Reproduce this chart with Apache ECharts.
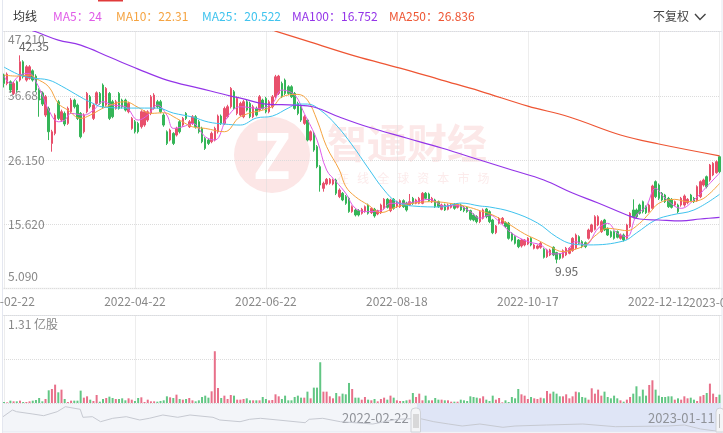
<!DOCTYPE html>
<html><head><meta charset="utf-8">
<style>html,body{margin:0;padding:0;background:#fff;overflow:hidden}#c{width:723px;height:433px}</style>
<script src="https://cdn.jsdelivr.net/npm/echarts@6/dist/echarts.min.js"></script>
</head><body><div id="c"></div>
<script>
const tickIndex=[0,41,82,123,164,205,224];
const tickLabels=['2022-02-22','2022-04-22','2022-06-22','2022-08-18','2022-10-17','2022-12-12','2023-01-11'];
const yMin=5.09,yMax=47.21,yStep=10.53,volMax=1.31;
const highMark=42.35,lowMark=9.95;
const legendNames=['MA5','MA10','MA25','MA100','MA250'];
const legendValues=['24','22.31','20.522','16.752','26.836'];
// [open, close, low, high]
const candles=[
[40.07,38.7,38.04,40.3],[38.7,40.23,38.4,40.5],[38.97,37.61,37.17,39.2],[37.06,38.7,36.8,39],[38.97,37.61,37.3,39.2],[39.25,42.25,39,43.3],[42.25,39.79,39.5,42.5],[39.25,41.43,39,41.7],[39.52,41.43,39.3,41.7],[40.77,39.25,39,41],
[39.9,37.61,37.3,40.2],[37.61,35.97,33.24,37.9],[37.06,35.31,35,37.3],[33.51,36.51,33.2,36.8],[34.6,30.78,29.42,34.9],[28.87,30.78,27.51,31.1],[30.51,33.51,30.2,33.8],[35.7,32.97,32.7,36],[32.69,34.06,32.4,34.4],[33.79,32.04,31.7,34.1],
[32.15,34.6,31.9,34.9],[34.06,35.97,33.8,36.3],[35.97,34.88,34.6,36.2],[35.15,32.97,32.7,35.4],[33.79,29.96,29.7,34],[30.78,33.51,30.5,33.8],[34.06,37.06,33.8,37.3],[36.51,34.88,34.6,36.8],[32.97,35.15,32.7,35.4],[35.42,37.17,35.2,37.4],
[37.06,35.42,35.2,37.3],[38.43,34.88,34.6,38.7],[35.15,37.88,34.9,38.1],[37.06,32.97,32.7,37.3],[35.7,33.24,33,36],[34.6,35.7,34.4,36],[37.06,34.6,34.4,37.3],[35.97,34.88,34.6,36.2],[35.97,34.33,34.1,36.2],[34.06,35.42,33.8,35.7],
[31.33,32.97,31.1,33.2],[32.42,30.78,30.5,32.7],[32.15,30.78,30.5,32.4],[31.6,34.06,31.3,34.3],[31.88,34.06,31.6,34.3],[32.69,34.06,32.4,34.3],[33.79,36.51,33.5,36.8],[34.6,36.79,34.4,37.1],[35.7,34.88,34.6,36],[35.7,34.06,33.8,36],
[33.51,31.88,31.6,33.8],[30.78,28.87,28.6,31],[29.42,31.06,29.2,31.3],[30.51,28.87,28.6,30.7],[30.24,31.33,30,31.6],[32.42,30.78,30.5,32.7],[31.88,32.97,31.6,33.2],[33.79,32.97,32.7,34],[31.6,32.42,31.4,32.7],[32.15,33.24,31.9,33.5],
[33.24,31.6,31.3,33.5],[32.42,30.78,30.5,32.7],[31.33,29.15,28.9,31.6],[29.69,28.05,27.8,29.9],[29.42,28.87,28.6,29.7],[29.15,30.51,28.9,30.8],[29.42,31.33,29.2,31.6],[30.78,33.35,30.5,33.6],[33.35,32.15,31.9,33.6],[32.15,34.6,31.9,34.9],
[33.24,34.88,33,35.2],[34.88,37.88,34.6,38.1],[37.34,34.6,34.4,37.6],[33.79,36.24,33.5,36.5],[33.51,35.42,33.3,35.7],[33.24,35.7,33,36],[35.7,34.33,34.1,36],[35.42,33.24,33,35.7],[33.24,34.88,33,35.2],[34.6,33.51,33.3,34.9],
[34.33,36.51,34.1,36.8],[35.97,34.6,34.4,36.2],[36.24,34.06,33.8,36.5],[34.06,35.7,33.8,36],[34.88,36.51,34.6,36.8],[36.51,39.79,36.3,40.1],[37.06,39.9,36.8,40.1],[38.7,36.51,36.3,39],[39.25,37.06,36.8,39.5],[38.15,37.06,36.8,38.4],
[38.15,36.51,36.3,38.4],[37.06,34.6,34.4,37.3],[35.42,33.79,33.5,35.7],[34.88,32.69,32.4,35.1],[32.15,33.24,31.9,33.5],[32.69,29.42,29.2,32.9],[29.42,30.78,29.2,31],[30.51,27.78,27.5,30.8],[28.33,25.05,24.8,28.6],[25.05,22.05,20.96,25.3],
[21.5,22.33,20.96,22.6],[22.22,22.98,22,23.2],[22.33,22.98,22.1,23.2],[22.22,22.87,22,23.1],[22.87,20.69,20.4,23.1],[20.14,21.23,19.9,21.5],[20.69,19.6,19.4,20.9],[20.14,19.05,18.8,20.4],[19.87,17.69,17.5,20.1],[17.69,18.5,17.5,18.7],
[17.96,17.14,16.9,18.2],[17.85,17.14,16.9,18.1],[17.41,18.07,17.2,18.3],[17.69,18.5,17.5,18.7],[18.78,17.41,17.2,19],[17.52,18.23,17.3,18.4],[18.07,16.98,16.7,18.3],[17.3,17.85,17.1,18],[17.52,18.78,17.3,19],[18.23,19.71,18,19.9],
[19.71,18.39,18.2,19.9],[17.85,19.6,17.6,19.8],[19.71,18.23,18,19.9],[18.5,19.32,18.3,19.5],[18.5,19.49,18.3,19.7],[19.49,18.5,18.3,19.7],[19.05,17.96,17.7,19.3],[18.78,19.32,18.6,20.58],[19.87,19.05,18.8,20.1],[19.05,19.6,18.9,19.8],
[19.05,19.87,18.9,20.1],[19.05,20.69,18.9,20.9],[20.69,19.87,19.7,20.9],[20.58,19.49,19.3,20.8],[19.32,19.87,19.1,20.1],[19.6,18.5,18.3,19.8],[19.32,18.5,18.3,19.5],[18.07,18.78,17.9,19],[18.78,17.96,17.8,19],[18.07,18.78,17.9,19],
[18.39,18.78,18.2,19],[18.89,18.23,18,19.1],[18.39,18.89,18.2,19.1],[18.78,17.96,17.8,19],[18.39,17.85,17.6,18.6],[18.39,17.69,17.5,18.6],[17.85,16.43,16.2,18],[17.14,16.32,16.1,17.4],[16.87,16.05,15.77,17.1],[16.05,17.68,15.8,17.9],
[16.59,17.96,16.4,18.2],[18.12,16.86,16.6,18.3],[17.68,16.05,15.8,17.9],[16.32,14.24,14,16.5],[14.24,15.34,14,15.5],[15.77,16.59,15.6,16.8],[15.77,16.59,15.6,16.8],[15.88,15.23,15,16.1],[15.77,13.31,13.1,16],[14.13,13.04,12.8,14.3],
[13.59,12.5,12.3,13.8],[13.04,11.95,11.7,13.2],[12.06,13.04,11.8,13.2],[12.22,13.04,12,13.2],[12.39,13.31,12.2,13.5],[13.31,12.22,12,13.5],[11.68,12.22,11.5,12.4],[11.68,12.06,11.5,12.3],[11.84,12.5,11.6,12.7],[11.51,10.2,10,11.7],
[10.31,11.4,10.1,11.6],[10.59,11.4,10.4,11.6],[11.84,10.59,10.4,12],[10.97,9.88,9.22,11.1],[10.75,10.04,9.8,10.9],[10.2,11.29,10,11.5],[10.59,11.68,10.4,11.9],[10.86,11.68,10.7,11.9],[11.29,13.31,11.1,13.5],[11.68,13.86,11.5,14.1],
[13.59,12.5,12.3,13.8],[12.77,11.95,11.7,13],[12.6,11.95,11.7,12.8],[13.31,14.68,13.1,14.9],[14.41,15.5,14.2,15.7],[14.79,16.86,14.6,17.1],[15.5,16.86,15.3,17.1],[14.41,16.05,14.2,16.3],[16.32,14.68,14.5,16.5],[14.95,13.86,13.7,15.1],
[14.41,13.59,13.4,14.6],[14.41,13.31,13.1,14.6],[14.41,13.48,13.3,14.6],[13.31,13.86,13.1,14.1],[13.86,13.04,12.8,14.1],[13.31,15.5,13.1,15.7],[15.23,17.41,15,17.6],[17.96,16.86,16.6,19.7],[17.96,16.86,16.6,18.2],[18.77,17.41,17.2,19],
[19.32,17.68,17.4,19.5],[18.5,17.52,17.3,18.7],[17.68,18.77,17.5,19],[18.23,21.89,18,22.1],[22.6,20.14,19.9,22.8],[22.05,19.87,19.6,22.3],[20.69,19.59,19.4,20.9],[20.41,19.32,19.1,20.6],[19.87,18.5,18.3,20.1],[19.7,18.39,18.2,19.9],
[18.77,19.32,18.6,19.5],[18.77,17.68,17.4,19],[18.77,19.87,18.5,20.1],[18.77,20.25,18.5,20.5],[19.16,19.7,18.9,19.9],[20.41,19.48,19.3,20.6],[19.87,19.32,19.1,20.1],[19.48,21.78,19.3,22],[20.14,22.6,19.9,22.8],[22.05,22.87,21.8,23.1],
[23.42,21.78,21.5,23.6],[22.87,25.33,22.6,25.5],[23.69,25.6,23.5,25.8],[24.07,25.87,23.9,26.1],[26.69,24.23,24,26.84]
];
const volumes=[
0.015,0.01,0.035,0.025,0.025,0.035,0.015,0.015,0.025,0.035,0.045,0.075,0.025,0.06,0.19,0.21,0.275,0.16,0.2,0.06,0.015,0.035,0.035,0.035,0.185,0.08,0.1,0.05,0.03,0.12,0.02,0.06,0.075,0.095,0.075,0.06,0.06,0.07,0.04,0.07,0.05,0.03,0.075,0.085,0.015,0.05,0.025,0.025,0.02,0.03,0.04,0.1,0.085,0.075,0.125,0.06,0.05,0.06,0.075,0.04,0.025,0.04,0.09,0.11,0.08,0.175,0.775,0.225,0.075,0.11,0.06,0.12,0.11,0.05,
0.05,0.06,0.07,0.04,0.04,0.04,0.04,0.09,0.06,0.04,0.045,0.13,0.1,0.06,0.11,0.04,0.04,0.09,0.11,0.08,0.08,0.17,0.07,0.23,0.23,0.61,0.17,0.17,0.1,0.07,0.15,0.1,0.14,0.13,0.3,0.21,0.08,0.08,0.05,0.09,0.05,0.04,0.06,0.025,0.06,0.08,0.05,0.11,0.08,0.04,0.03,0.03,0.04,0.05,0.15,0.09,0.14,0.04,0.11,0.04,0.04,0.075,0.05,0.05,0.04,0.04,0.02,0.02,0.02,0.05,0.04,0.03,0.1,0.09,0.08,
0.07,0.1,0.05,0.03,0.11,0.05,0.075,0.01,0.04,0.015,0.09,0.07,0.21,0.13,0.11,0.06,0.09,0.07,0.06,0.08,0.07,0.18,0.14,0.17,0.14,0.1,0.1,0.13,0.07,0.1,0.17,0.16,0.09,0.08,0.05,0.22,0.14,0.2,0.11,0.17,0.09,0.07,0.11,0.07,0.04,0.02,0.05,0.09,0.14,0.25,0.1,0.2,0.11,0.27,0.34,0.2,0.11,0.09,0.09,0.1,0.1,0.05,0.07,0.05,0.1,0.07,0.08,0.05,0.03,0.1,0.12,0.15,0.29,0.14,0.09,0.125
];
const ma5=[[0,39.9],[2,38.7],[5,40.07],[8,40.34],[10,38.97],[12,36.79],[14,34.33],[17,32.42],[19,32.69],[21,33.79],[25,33.51],[28,34.33],[31,35.7],[34,35.15],[38,34.88],[42,32.69],[45,33.51],[48,35.15],[51,33.51],[53,31.33],[56,31.6],[59,32.15],[63,29.96],[66,29.42],[70,33.24],[74,34.88],[80,34.6],[84,35.42],[87,37.61],[91,36.79],[94,33.79],[98,29.42],[101,24.5],[104,22.6],[107,20.69],[110,18.23],[114,17.69],[118,17.85],[121,19.05],[125,19.05],[129,19.32],[133,19.7],[138,18.61],[142,18.67],[146,17.69],[149,16.59],[152,17.14],[155,16.05],[159,14.13],[164,12.77],[168,12.22],[172,10.75],[176,11.13],[179,12.77],[182,12.22],[186,14.95],[189,15.77],[192,14.13],[195,13.59],[198,17.14],[201,18.5],[204,21.5],[207,19.87],[212,18.23],[216,19.6],[220,21.78],[224,24]];
const ma10=[[0,40.07],[4,39.9],[8,40.07],[10,39.52],[14,38.15],[17,35.42],[20,34.33],[24,32.97],[27,33.51],[32,34.88],[38,35.7],[42,34.77],[46,33.79],[50,33.9],[54,32.97],[59,31.6],[63,31.33],[69,30.78],[74,33.24],[84,34.88],[87,36.5],[92,36.9],[95,35.97],[98,32.69],[101,28.33],[105,24.51],[107,21.8],[110,20.14],[114,18.78],[118,17.52],[123,18.5],[128,19.05],[134,19.32],[141,18.94],[145,18.5],[149,17.85],[153,17.14],[158,15.66],[163,14.03],[167,13.04],[171,11.95],[175,11.13],[178,11.4],[182,12.22],[185,13.7],[189,14.95],[192,14.79],[195,14.57],[199,15.77],[202,17.41],[205,19.05],[210,19.7],[214,19.32],[218,19.6],[221,20.69],[224,22.31]];
const ma25=[[0,41.38],[5,40.07],[9,39.58],[14,39.25],[18,38.27],[24,36.46],[27,35.65],[31,34.83],[40,34.66],[48,34.66],[53,33.84],[59,33.19],[64,32.37],[69,32.04],[74,31.88],[79,33.03],[84,33.35],[89,34.66],[92,35.32],[95,35.32],[99,34.34],[104,31.88],[109,28.6],[114,24.84],[119,21.23],[123,19.27],[128,18.61],[137,18.45],[143,19.1],[149,18.61],[152,18.45],[159,17.63],[167,15.83],[173,13.54],[178,12.39],[183,12.23],[194,12.88],[198,14.19],[204,16.32],[209,17.14],[216,17.96],[224,20.52]];
const ma100=[[8,47.5],[10,47.16],[17,45.8],[24,44.98],[33,43.02],[42,41.05],[51,39.25],[61,37.94],[71,36.63],[74,36.3],[82,35.32],[91,35.15],[97,34.83],[105,33.19],[114,31.55],[126,29.75],[137,28.11],[149,26.15],[159,24.51],[169,22.87],[178,20.74],[186,19.1],[195,17.14],[199,16.48],[205,16.32],[212,16.16],[218,16.48],[224,16.75]];
const ma250=[[82,47.8],[85,47.27],[96,45.47],[110,43.18],[124,41.21],[137,39.25],[149,37.45],[164,34.99],[177,33.19],[193,30.24],[205,28.77],[224,26.84]];
const overviewX=[0,7,10,22,30,40,46,57,59,66,72,81,91,101,108,118,129,138,155,160,175,182,190,203,223,226,236,249,273,291,307,318,329,339,352,369,378,401,428,452,491,503,515,530,587,626,650,675];
const overviewY=[14.3,21,19.3,17,15.3,19.3,24.3,21.7,13.7,14.3,9.3,12.7,14.3,11,12.7,16,13.7,16,13.7,11,9.3,11.7,12.7,11,8.3,11.7,12.7,9.3,7,11.7,12.7,9.3,7,5,7,3.7,5,6,7,4.3,5,6,2,-0.7,-3,0.3,0.3,1];

const categories=candles.map((_,i)=>{const k=tickIndex.indexOf(i);return k>=0?tickLabels[k]:'d'+i;});
const legendColors=['#e05be8','#f5a340','#3fc3ee','#9434e8','#ee5533'];
const FONT='"Noto Sans CJK SC","Noto Sans",sans-serif';
const up='#e8506c',down='#35b558',upV='#e8708a',downV='#62c684';
const showTick=i=>tickIndex.indexOf(i)>=0;
const grid='#dcdcdc';
const line=(name,data,w,color)=>({name,type:'line',data,xAxisIndex:0,yAxisIndex:0,showSymbol:false,smooth:0.4,lineStyle:{width:w,color},itemStyle:{color},animation:false,z:5});
const txt=(x,y,text,fill,size,extra)=>Object.assign({type:'text',x,y,silent:true,style:Object.assign({text,fill,font:`${size||12}px ${FONT}`,textVerticalAlign:'middle'},extra||{})},{});

const legendX=[53,116,202,292,389];
const graphics=[
 {type:'rect',z:-10,shape:{x:3,y:403,width:718,height:29},style:{fill:'#f3f5f9'}},
 {type:'rect',z:-9,shape:{x:417,y:403,width:304,height:29},style:{fill:'#dfe5f6'}},
 {type:'rect',shape:{x:98,y:0,width:25,height:1.5},style:{fill:'#e03a3a'}},
 {type:'line',shape:{x1:3,y1:31.5,x2:722,y2:31.5},style:{stroke:'#e4e6ee',lineWidth:1}},
 {type:'line',shape:{x1:3,y1:288.5,x2:722,y2:288.5},style:{stroke:'#f0f0f0',lineWidth:1.5}},
 {type:'line',shape:{x1:3,y1:315.5,x2:722,y2:315.5},style:{stroke:'#e0e3ea',lineWidth:1}},
 {type:'line',shape:{x1:2.5,y1:0,x2:2.5,y2:433},style:{stroke:'#e4e7f0',lineWidth:1}},
 {type:'line',shape:{x1:722,y1:0,x2:722,y2:433},style:{stroke:'#e4e7f0',lineWidth:1}},
 {type:'line',shape:{x1:3,y1:432,x2:722,y2:432},style:{stroke:'#e4e7f0',lineWidth:1}},
 // watermark
 {type:'circle',z:-5,shape:{cx:272,cy:155,r:38},style:{fill:'#fce6e6'}},
 txt(272,155,'Z','#ffffff',62,{textAlign:'center',font:`bold 62px ${FONT}`}),
 txt(327,143,'智通财经','#fce8e8',40,{font:`bold 40px ${FONT}`}),
 txt(337,178,'在   线   全   球   资   本   市   场','#fcebeb',12),
 // header
 txt(13,16,'均线','#333',12),
 txt(653,16,'不复权','#444',12),
 {type:'polyline',shape:{points:[[695,14],[700,19.5],[705.5,14]]},style:{stroke:'#444',lineWidth:1.4,fill:null}},
 // last tick label, touching its neighbour in the reference
 txt(689,302,tickLabels[6],'#888',12),
 // slider
 txt(342,418.5,tickLabels[0],'#909399',13,{z:20}),
 txt(648,418.5,tickLabels[6],'#909399',13),
 {type:'rect',z:30,shape:{x:411,y:408,width:9.5,height:24,r:[4,4,0,0]},style:{fill:'#f4f5f7',stroke:'#cfd2d8',lineWidth:1}},
 {type:'rect',z:31,shape:{x:413.5,y:414,width:1,height:14},style:{fill:'#bbb'}},
 {type:'rect',z:31,shape:{x:415.5,y:414,width:1,height:14},style:{fill:'#bbb'}},
 {type:'rect',z:31,shape:{x:417.5,y:414,width:1,height:14},style:{fill:'#bbb'}},
 {type:'rect',z:30,shape:{x:716,y:408,width:8,height:24,r:[4,4,0,0]},style:{fill:'#f4f5f7',stroke:'#cfd2d8',lineWidth:1}},
 {type:'rect',z:31,shape:{x:719,y:414,width:1,height:14},style:{fill:'#bbb'}},
];
legendNames.forEach((n,i)=>graphics.push(txt(legendX[i],16,n+'：'+legendValues[i],legendColors[i],12)));

const chart=echarts.init(document.getElementById('c'),null,{renderer:'canvas'});
chart.setOption({
 animation:false,backgroundColor:'#fff',
 textStyle:{fontFamily:FONT},
 grid:[
  {left:4,right:3.5,top:31.5,height:257,containLabel:false,outerBoundsMode:'none'},
  {left:4,right:3.5,top:315.5,height:87.5,outerBoundsMode:'none'},
  {left:3,right:2,top:403,height:28,outerBoundsMode:'none'}
 ],
 xAxis:[
  {type:'category',gridIndex:0,data:categories,boundaryGap:false,axisLine:{show:false},axisTick:{show:false},
   axisLabel:{interval:(i)=>showTick(i),formatter:v=>tickLabels.includes(v)?v:'',color:'#888',fontSize:12,margin:7,hideOverlap:false,showMaxLabel:false,showMinLabel:true,fontFamily:FONT},
   splitLine:{show:true,interval:(i)=>showTick(i),lineStyle:{type:'dotted',color:grid}}},
  {type:'category',gridIndex:1,data:categories,boundaryGap:false,axisLine:{show:false},axisTick:{show:false},axisLabel:{show:false},
   splitLine:{show:true,interval:(i)=>showTick(i),lineStyle:{type:'dotted',color:grid}}},
  {type:'value',gridIndex:2,min:0,max:530,show:false,splitLine:{show:false}}
 ],
 yAxis:[
  {type:'value',gridIndex:0,min:yMin,max:yMax,interval:yStep,scale:true,axisLine:{show:false},axisTick:{show:false},
   axisLabel:{inside:true,margin:4,color:'#888',fontSize:12,fontFamily:FONT,verticalAlignMinLabel:'bottom',verticalAlignMaxLabel:'top',
     formatter:v=>Math.abs(v-yMin)<1e-6?'{low|'+v.toFixed(3)+'}':Math.abs(v-yMax)<1e-6?'{high|'+v.toFixed(3)+'}':v.toFixed(3),
     rich:{low:{padding:[0,0,6,0],color:'#888',fontSize:12,fontFamily:FONT},high:{padding:[2,0,0,0],color:'#888',fontSize:12,fontFamily:FONT}}},
   splitLine:{show:true,lineStyle:{type:'dotted',color:grid}}},
  {type:'value',gridIndex:1,min:0,max:volMax,interval:volMax/2,axisLine:{show:false},axisTick:{show:false},
   axisLabel:{inside:true,margin:4,color:'#888',fontSize:12,fontFamily:FONT,verticalAlignMaxLabel:'top',
     formatter:v=>Math.abs(v-volMax)<1e-6?'{t|'+volMax+' 亿股}':'',rich:{t:{padding:[3,0,0,0],color:'#888',fontSize:12,fontFamily:FONT}}},
   splitLine:{show:true,lineStyle:{type:'dotted',color:grid}}},
  {type:'value',gridIndex:2,min:0,max:28,show:false,splitLine:{show:false}}
 ],
 series:[
  {type:'candlestick',xAxisIndex:0,yAxisIndex:0,data:candles,barWidth:2,z:3,clip:true,
   itemStyle:{color:up,color0:down,borderColor:up,borderColor0:down,borderWidth:1},
   markPoint:{symbol:'circle',symbolSize:1,itemStyle:{color:'rgba(0,0,0,0)'},z:8,
    data:[
     {coord:[5,highMark],value:highMark,label:{show:true,formatter:''+highMark,color:'#666',fontSize:12,fontFamily:FONT,offset:[14,-15],position:'inside'}},
     {coord:[173,lowMark],value:lowMark,label:{show:true,formatter:''+lowMark,color:'#666',fontSize:12,fontFamily:FONT,offset:[10,13],position:'inside'}}
    ]}},
  line('MA5',ma5,1,legendColors[0]),
  line('MA10',ma10,1,legendColors[1]),
  line('MA25',ma25,1,legendColors[2]),
  line('MA100',ma100,1.2,legendColors[3]),
  line('MA250',ma250,1.2,legendColors[4]),
  {type:'bar',xAxisIndex:1,yAxisIndex:1,barWidth:2,data:volumes.map((v,i)=>({value:v,itemStyle:{color:candles[i][1]>=candles[i][0]?upV:downV}}))},
  {type:'line',xAxisIndex:2,yAxisIndex:2,showSymbol:false,clip:true,data:overviewX.map((x,i)=>[x,overviewY[i]]),lineStyle:{width:1,color:'#c6c9d1'},itemStyle:{color:'#c6c9d1'},silent:true}
 ],
 graphic:{elements:graphics}
});
</script></body></html>
